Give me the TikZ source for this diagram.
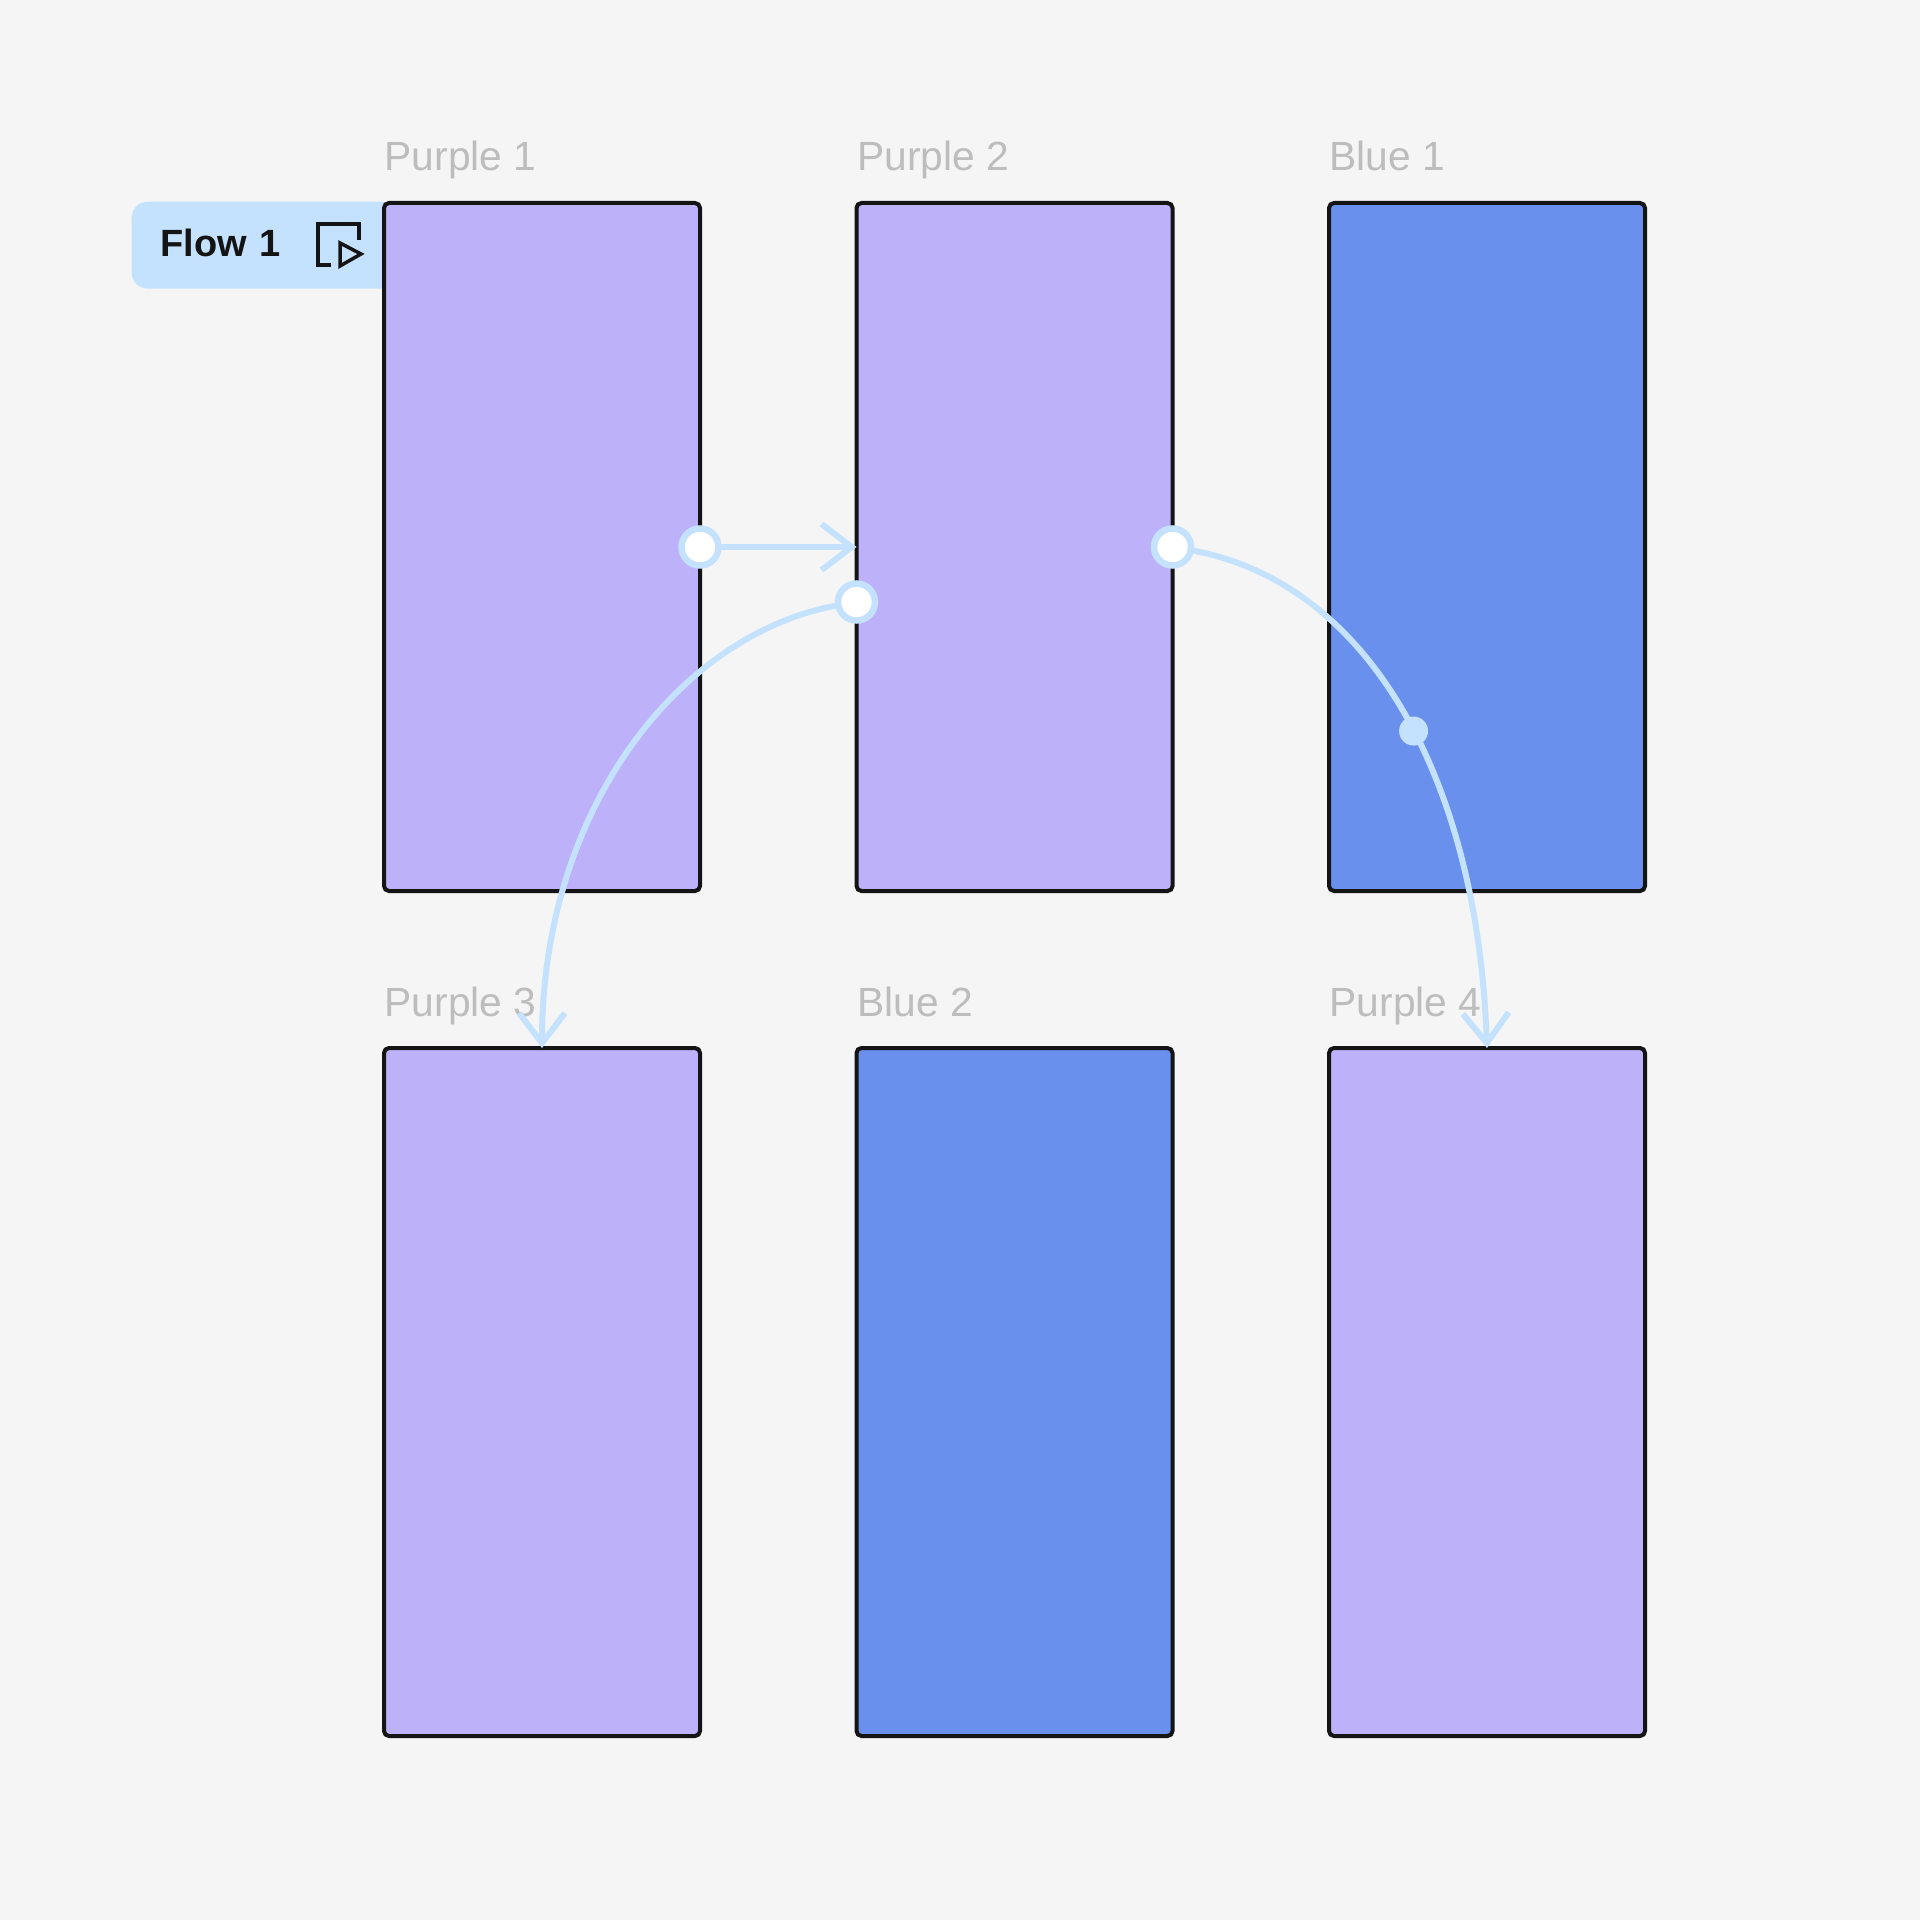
\documentclass[tikz,border=0pt]{standalone}
\usepackage{xcolor}
\usepackage{fontspec}
\setmainfont{Liberation Sans}
\usepackage{tikz}
\usetikzlibrary{arrows.meta, positioning}

\definecolor{pagegray}{HTML}{F5F5F5}
\definecolor{purplefill}{HTML}{BDB2FA}
\definecolor{bluefill}{HTML}{6A90EE}
\definecolor{flowblue}{HTML}{C4E2FD}
\definecolor{taggray}{HTML}{BDBDBD}
\definecolor{inkblack}{HTML}{141414}

\begin{document}
\begin{tikzpicture}[
    node distance=1.57cm and 1.565cm,
    frame/.style={rectangle, rounded corners=0.05cm, minimum width=3.16cm, minimum height=6.88cm, outer sep=0pt, draw=inkblack, line width=0.04cm},
    purple/.style={frame, fill=purplefill},
    bluebox/.style={frame, fill=bluefill},
    tag/.style={anchor=base west, inner sep=0pt, text=taggray, font=\fontsize{11.6}{13}\selectfont},
    flowtab/.style={rectangle, rounded corners=0.16cm, minimum width=2.64cm, minimum height=0.87cm, inner xsep=0.29cm, text width=2.06cm, text depth=0.05cm, align=left, fill=flowblue, text=inkblack, font=\fontsize{10.8}{13}\selectfont\bfseries},
    handle/.style={circle, minimum size=0.37cm, inner sep=0pt, outer sep=0pt, fill=white, draw=flowblue, line width=0.065cm},
    joint/.style={circle, minimum size=0.29cm, inner sep=0pt, fill=flowblue},
    arrow/.style={draw=flowblue, line width=0.06cm, -{Straight Barb[length=0.3cm, width=0.46cm, line width=0.06cm]}},
    icon/.style={draw=inkblack, line width=0.035cm}
]

% Page
\path [fill=pagegray, use as bounding box] (0,0) rectangle (19.2,-19.2);

% Flow tab
\node (flow) [flowtab, anchor=north west] at (1.31,-2.01) {Flow 1};
\draw [icon] (3.31,-2.65) -| (3.18,-2.24) -| (3.59,-2.40);
\draw [icon] (3.40,-2.43) -- (3.61,-2.54) -- (3.40,-2.66) -- cycle;

% Frames
\node (purple1) [purple, anchor=north west] at (3.84,-2.03) {};
\node (purple2) [purple, right=of purple1] {};
\node (blue1) [bluebox, right=of purple2] {};
\node (purple3) [purple, below=of purple1] {};
\node (blue2) [bluebox, right=of purple3] {};
\node (purple4) [purple, right=of blue2] {};

% Labels
\node (tag1) [tag] at ([yshift=0.32cm]purple1.north west) {Purple 1};
\node (tag2) [tag] at ([yshift=0.32cm]purple2.north west) {Purple 2};
\node (tag3) [tag] at ([yshift=0.32cm]blue1.north west) {Blue 1};
\node (tag4) [tag] at ([yshift=0.32cm]purple3.north west) {Purple 3};
\node (tag5) [tag] at ([yshift=0.32cm]blue2.north west) {Blue 2};
\node (tag6) [tag] at ([yshift=0.32cm]purple4.north west) {Purple 4};

% Handles
\node (start1) [handle] at (purple1.east) {};
\node (start2) [handle] at ([yshift=-0.55cm]purple2.west) {};
\node (start3) [handle] at (purple2.east) {};

% Arrows
\draw [arrow] (start1) -- (purple2.west);
\draw [arrow] (start2) to [out=190, in=90, out distance=1.6cm, in distance=2.4cm] (purple3.north);
\draw [arrow] (start3) to [out=-10, in=92, out distance=1.8cm, in distance=2.7cm] node (mid) [joint, pos=0.54] {} (purple4.north);

\end{tikzpicture}
\end{document}
